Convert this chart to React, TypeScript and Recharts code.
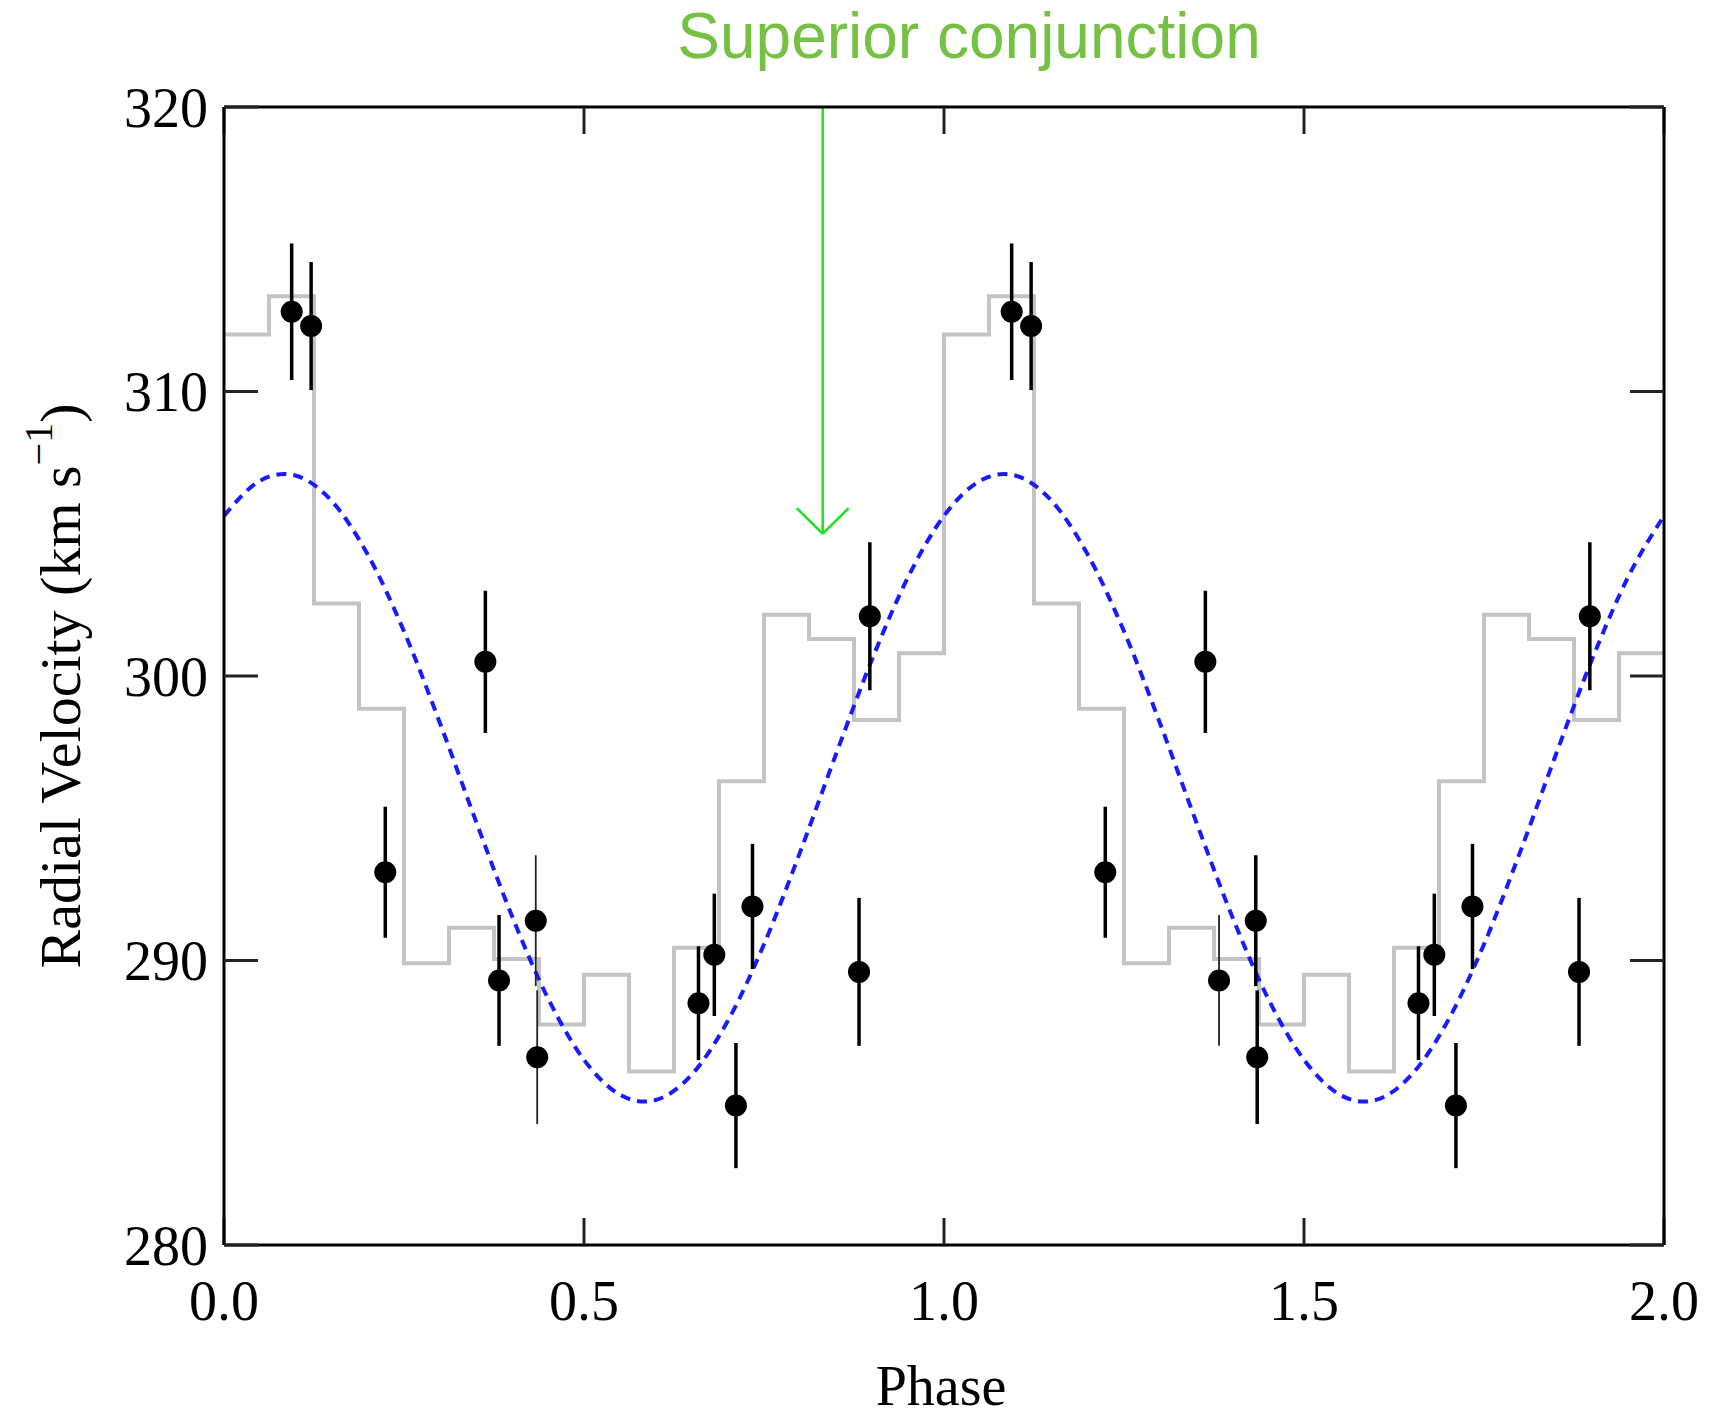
import { ComposedChart, Line, Scatter, ErrorBar, XAxis, YAxis, ReferenceLine, Label } from "recharts";

/* Phase-folded radial velocities: binned profile (grey steps), sinusoid fit
   (blue dashes) and the individual measurements, plotted over two cycles. */

const W = 1715;
const H = 1419;

const PHASE_TICKS = [0, 0.5, 1, 1.5, 2];
const RV_TICKS = [280, 290, 300, 310, 320];

// measurements (km/s) with 1-sigma errors, both plotted cycles
const OBS_PHASE = [0.094, 0.121, 0.224, 0.363, 0.382, 0.433, 0.435, 0.659, 0.681, 0.711, 0.734, 0.882, 0.897,
  1.094, 1.121, 1.224, 1.363, 1.382, 1.433, 1.435, 1.659, 1.681, 1.711, 1.734, 1.882, 1.897];
const OBS_RV = [312.8, 312.3, 293.1, 300.5, 289.3, 291.4, 286.6, 288.5, 290.2, 284.9, 291.9, 289.6, 302.1,
  312.8, 312.3, 293.1, 300.5, 289.3, 291.4, 286.6, 288.5, 290.2, 284.9, 291.9, 289.6, 302.1];
const OBS_ERR = [2.4, 2.25, 2.3, 2.5, 2.3, 2.3, 2.35, 2.0, 2.15, 2.2, 2.2, 2.6, 2.6,
  2.4, 2.25, 2.3, 2.5, 2.3, 2.3, 2.35, 2.0, 2.15, 2.2, 2.2, 2.6, 2.6];
// bars that come out hairline in the original
const OBS_THIN = [0, 0, 0, 0, 0, 1, 1, 0, 0, 0, 0, 0, 0,
  0, 0, 0, 0, 1, 0, 0, 0, 0, 0, 0, 0, 0];

// binned profile, 16 bins per cycle (value holds until the next edge)
const HIST_EDGE = [0, 0.0625, 0.125, 0.1875, 0.25, 0.3125, 0.375, 0.4375, 0.5, 0.5625, 0.625, 0.6875, 0.75, 0.8125, 0.875, 0.9375,
  1, 1.0625, 1.125, 1.1875, 1.25, 1.3125, 1.375, 1.4375, 1.5, 1.5625, 1.625, 1.6875, 1.75, 1.8125, 1.875, 1.9375, 2];
const HIST_RV = [312.0, 313.35, 302.55, 298.85, 289.9, 291.15, 290.05, 287.75, 289.5, 286.1, 290.45, 296.3, 302.15, 301.3, 298.45, 300.8,
  312.0, 313.35, 302.55, 298.85, 289.9, 291.15, 290.05, 287.75, 289.5, 286.1, 290.45, 296.3, 302.15, 301.3, 298.45, 300.8, 300.8];

// fitted curve
const FIT_PHASE = [0, 0.05, 0.083, 0.1, 0.15, 0.2, 0.25, 0.3, 0.35, 0.4, 0.45, 0.5, 0.55, 0.583, 0.6, 0.65, 0.7, 0.75, 0.8, 0.85, 0.9, 0.95,
  1, 1.05, 1.083, 1.1, 1.15, 1.2, 1.25, 1.3, 1.35, 1.4, 1.45, 1.5, 1.55, 1.583, 1.6, 1.65, 1.7, 1.75, 1.8, 1.85, 1.9, 1.95, 2];
const FIT_RV = [305.63, 306.86, 307.1, 307.04, 306.14, 304.25, 301.57, 298.34, 294.89, 291.56, 288.67, 286.51, 285.28, 285.04, 285.1, 286.0, 287.89, 290.57, 293.8, 297.25, 300.58, 303.47,
  305.63, 306.86, 307.1, 307.04, 306.14, 304.25, 301.57, 298.34, 294.89, 291.56, 288.67, 286.51, 285.28, 285.04, 285.1, 286.0, 287.89, 290.57, 293.8, 297.25, 300.58, 303.47, 305.63];

const CONJ_PHASE = 0.8315; // superior conjunction marker
const ARROW_TIP = 305.0;
const BARB_DX = 0.036;
const BARB_DY = 0.9;

const obs = OBS_PHASE.map((x, i) => ({ x, rv: OBS_RV[i], err: OBS_ERR[i], thin: OBS_THIN[i] }));
const hist = HIST_EDGE.map((x, i) => ({ x, hist: HIST_RV[i] }));
const fit = FIT_PHASE.map((x, i) => ({ x, fit: FIT_RV[i] }));

const SERIF = "'Liberation Serif', 'Times New Roman', serif";
const GREEN = "#22e022";

const dot = (p: any) => <circle cx={p.cx} cy={p.cy} r={11} fill="#000" />;

function YTitle({ viewBox }: any) {
  const cx = viewBox.x + 36;
  const cy = viewBox.y + viewBox.height / 2 + 10;
  return (
    <text x={cx} y={cy} transform={`rotate(-90 ${cx} ${cy})`} textAnchor="middle" dominantBaseline="central" fontFamily={SERIF} fontSize={58} fill="#000">
      Radial Velocity (km s<tspan fontSize={40} dy={-22}>{"\u22121"}</tspan>
      <tspan dy={22}>)</tspan>
    </text>
  );
}

function XTitle({ viewBox }: any) {
  return (
    <text x={viewBox.x + viewBox.width / 2 - 3} y={viewBox.y + 160} textAnchor="middle" fontFamily={SERIF} fontSize={56} fill="#000">
      Phase
    </text>
  );
}

function TopTitle({ viewBox }: any) {
  return (
    <text x={viewBox.x + 745} y={58} textAnchor="middle" fontFamily="'Liberation Sans', Arial, sans-serif" fontSize={64} fill="#76c043">
      Superior conjunction
    </text>
  );
}

export default function App() {
  const tickStyle = { fontSize: 56, fill: "#000", fontFamily: SERIF };
  const frame = { stroke: "#000", strokeWidth: 3 };
  const tickLine = { stroke: "#222", strokeWidth: 3 };
  return (
    <div style={{ position: "absolute", left: 0, top: 0, width: W, height: H, background: "#fff" }}>
      <ComposedChart width={W} height={H} margin={{ top: 106, right: 50, bottom: 24, left: 24 }}>
        <XAxis xAxisId="b" dataKey="x" type="number" domain={[0, 2]} ticks={PHASE_TICKS} interval={0} allowDataOverflow
          height={150} tickSize={-27} tickMargin={62} tick={tickStyle} axisLine={frame} tickLine={tickLine}
          tickFormatter={(v: number) => v.toFixed(1)}>
          <Label content={XTitle} />
        </XAxis>
        <XAxis xAxisId="t" orientation="top" dataKey="x" type="number" domain={[0, 2]} ticks={PHASE_TICKS} interval={0} allowDataOverflow
          height={1} tickSize={-27} tickFormatter={() => ""} axisLine={frame} tickLine={tickLine}>
          <Label content={TopTitle} />
        </XAxis>
        <YAxis yAxisId="l" type="number" domain={[280, 320]} ticks={RV_TICKS} interval={0} allowDataOverflow
          width={200} tickSize={-34} tickMargin={50} tick={tickStyle} axisLine={frame} tickLine={tickLine}>
          <Label content={YTitle} />
        </YAxis>
        <YAxis yAxisId="r" orientation="right" type="number" domain={[280, 320]} ticks={RV_TICKS} interval={0} allowDataOverflow
          width={1} tickSize={-34} tickFormatter={() => ""} axisLine={frame} tickLine={tickLine} />

        <Line xAxisId="b" yAxisId="l" data={hist} dataKey="hist" type="stepAfter" stroke="#c4c4c4" strokeWidth={4}
          dot={false} activeDot={false} isAnimationActive={false} />
        <Line xAxisId="b" yAxisId="l" data={fit} dataKey="fit" type="monotone" stroke="#1a1aff" strokeWidth={4}
          strokeDasharray="10 7" dot={false} activeDot={false} isAnimationActive={false} />

        <Scatter xAxisId="b" yAxisId="l" data={obs.filter((d) => !d.thin)} dataKey="rv" shape={dot} isAnimationActive={false}>
          <ErrorBar dataKey="err" direction="y" width={0} stroke="#000" strokeWidth={3.5} isAnimationActive={false} />
        </Scatter>
        <Scatter xAxisId="b" yAxisId="l" data={obs.filter((d) => d.thin)} dataKey="rv" shape={dot} isAnimationActive={false}>
          <ErrorBar dataKey="err" direction="y" width={0} stroke="#222" strokeWidth={1.8} isAnimationActive={false} />
        </Scatter>

        <ReferenceLine xAxisId="b" yAxisId="l" segment={[{ x: CONJ_PHASE, y: 320 }, { x: CONJ_PHASE, y: ARROW_TIP }]}
          stroke={GREEN} strokeWidth={2.5} ifOverflow="visible" />
        <ReferenceLine xAxisId="b" yAxisId="l" segment={[{ x: CONJ_PHASE - BARB_DX, y: ARROW_TIP + BARB_DY }, { x: CONJ_PHASE, y: ARROW_TIP }]}
          stroke={GREEN} strokeWidth={2.5} ifOverflow="visible" />
        <ReferenceLine xAxisId="b" yAxisId="l" segment={[{ x: CONJ_PHASE + BARB_DX, y: ARROW_TIP + BARB_DY }, { x: CONJ_PHASE, y: ARROW_TIP }]}
          stroke={GREEN} strokeWidth={2.5} ifOverflow="visible" />
      </ComposedChart>
    </div>
  );
}
